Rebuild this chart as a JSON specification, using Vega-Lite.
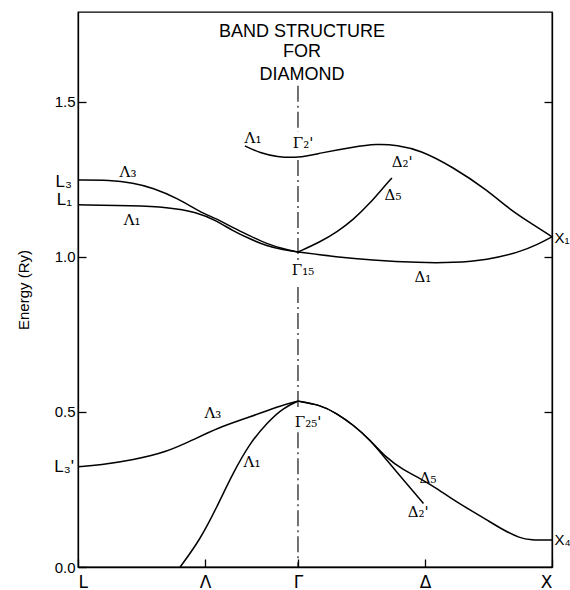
{
  "$schema": "https://vega.github.io/schema/vega-lite/v6.json",
  "autosize": "none",
  "padding": {"left": 78, "top": 12, "right": 18, "bottom": 23},
  "width": 474,
  "height": 555,
  "config": {
    "view": {"stroke": "black", "strokeWidth": 1.3},
    "font": "Liberation Sans",
    "axis": {"domainColor": "black", "tickColor": "black", "labelColor": "black", "titleColor": "black", "grid": false, "domainWidth": 1.3, "tickWidth": 1.3}
  },
  "datasets": {
    "bands": [
      {"band": "L3", "k": 0, "e": 1.248},
      {"band": "L3", "k": 0.126, "e": 1.248},
      {"band": "L3", "k": 0.217, "e": 1.239},
      {"band": "L3", "k": 0.295, "e": 1.223},
      {"band": "L3", "k": 0.39, "e": 1.19},
      {"band": "L3", "k": 0.48, "e": 1.145},
      {"band": "L3", "k": 0.547, "e": 1.123},
      {"band": "L3", "k": 0.61, "e": 1.094},
      {"band": "L3", "k": 0.677, "e": 1.068},
      {"band": "L3", "k": 0.744, "e": 1.042},
      {"band": "L3", "k": 0.807, "e": 1.026},
      {"band": "L3", "k": 0.866, "e": 1.016},
      {"band": "L1", "k": 0, "e": 1.168},
      {"band": "L1", "k": 0.217, "e": 1.165},
      {"band": "L1", "k": 0.35, "e": 1.161},
      {"band": "L1", "k": 0.469, "e": 1.145},
      {"band": "L1", "k": 0.547, "e": 1.116},
      {"band": "L1", "k": 0.61, "e": 1.084},
      {"band": "L1", "k": 0.677, "e": 1.058},
      {"band": "L1", "k": 0.744, "e": 1.035},
      {"band": "L1", "k": 0.807, "e": 1.023},
      {"band": "L1", "k": 0.866, "e": 1.016},
      {"band": "G2p", "k": 0.657, "e": 1.358},
      {"band": "G2p", "k": 0.717, "e": 1.335},
      {"band": "G2p", "k": 0.783, "e": 1.323},
      {"band": "G2p", "k": 0.866, "e": 1.319},
      {"band": "G2p", "k": 0.953, "e": 1.335},
      {"band": "G2p", "k": 1.083, "e": 1.355},
      {"band": "G2p", "k": 1.177, "e": 1.365},
      {"band": "G2p", "k": 1.256, "e": 1.361},
      {"band": "G2p", "k": 1.346, "e": 1.345},
      {"band": "G2p", "k": 1.476, "e": 1.29},
      {"band": "G2p", "k": 1.61, "e": 1.216},
      {"band": "G2p", "k": 1.701, "e": 1.152},
      {"band": "G2p", "k": 1.78, "e": 1.11},
      {"band": "G2p", "k": 1.866, "e": 1.065},
      {"band": "D5c", "k": 0.866, "e": 1.016},
      {"band": "D5c", "k": 0.953, "e": 1.048},
      {"band": "D5c", "k": 1.02, "e": 1.081},
      {"band": "D5c", "k": 1.083, "e": 1.119},
      {"band": "D5c", "k": 1.15, "e": 1.174},
      {"band": "D5c", "k": 1.201, "e": 1.223},
      {"band": "D5c", "k": 1.236, "e": 1.255},
      {"band": "D1", "k": 0.866, "e": 1.016},
      {"band": "D1", "k": 1.02, "e": 1.0},
      {"band": "D1", "k": 1.15, "e": 0.99},
      {"band": "D1", "k": 1.346, "e": 0.981},
      {"band": "D1", "k": 1.476, "e": 0.981},
      {"band": "D1", "k": 1.61, "e": 0.99},
      {"band": "D1", "k": 1.74, "e": 1.016},
      {"band": "D1", "k": 1.807, "e": 1.039},
      {"band": "D1", "k": 1.866, "e": 1.065},
      {"band": "L3v", "k": 0, "e": 0.323},
      {"band": "L3v", "k": 0.087, "e": 0.329},
      {"band": "L3v", "k": 0.217, "e": 0.345},
      {"band": "L3v", "k": 0.35, "e": 0.371},
      {"band": "L3v", "k": 0.453, "e": 0.41},
      {"band": "L3v", "k": 0.547, "e": 0.448},
      {"band": "L3v", "k": 0.677, "e": 0.484},
      {"band": "L3v", "k": 0.807, "e": 0.523},
      {"band": "L3v", "k": 0.866, "e": 0.535},
      {"band": "L1v", "k": 0.402, "e": 0},
      {"band": "L1v", "k": 0.48, "e": 0.087},
      {"band": "L1v", "k": 0.547, "e": 0.194},
      {"band": "L1v", "k": 0.61, "e": 0.303},
      {"band": "L1v", "k": 0.677, "e": 0.4},
      {"band": "L1v", "k": 0.744, "e": 0.465},
      {"band": "L1v", "k": 0.807, "e": 0.513},
      {"band": "L1v", "k": 0.866, "e": 0.535},
      {"band": "D5v", "k": 0.866, "e": 0.535},
      {"band": "D5v", "k": 0.953, "e": 0.523},
      {"band": "D5v", "k": 1.018, "e": 0.496},
      {"band": "D5v", "k": 1.084, "e": 0.458},
      {"band": "D5v", "k": 1.15, "e": 0.41},
      {"band": "D5v", "k": 1.215, "e": 0.351},
      {"band": "D5v", "k": 1.281, "e": 0.313},
      {"band": "D5v", "k": 1.346, "e": 0.286},
      {"band": "D5v", "k": 1.412, "e": 0.254},
      {"band": "D5v", "k": 1.478, "e": 0.216},
      {"band": "D5v", "k": 1.543, "e": 0.184},
      {"band": "D5v", "k": 1.609, "e": 0.152},
      {"band": "D5v", "k": 1.675, "e": 0.119},
      {"band": "D5v", "k": 1.74, "e": 0.093},
      {"band": "D5v", "k": 1.78, "e": 0.087},
      {"band": "D5v", "k": 1.866, "e": 0.087},
      {"band": "D2pv", "k": 0.866, "e": 0.535},
      {"band": "D2pv", "k": 0.953, "e": 0.523},
      {"band": "D2pv", "k": 1.018, "e": 0.496},
      {"band": "D2pv", "k": 1.084, "e": 0.458},
      {"band": "D2pv", "k": 1.15, "e": 0.41},
      {"band": "D2pv", "k": 1.215, "e": 0.345},
      {"band": "D2pv", "k": 1.281, "e": 0.281},
      {"band": "D2pv", "k": 1.36, "e": 0.205}
    ],
    "gammaLine": [
      {"k": 0.866, "e1": 1.552, "e2": 1.403},
      {"k": 0.866, "e1": 1.313, "e2": 0.984},
      {"k": 0.866, "e1": 0.903, "e2": 0.516},
      {"k": 0.866, "e1": 0.435, "e2": 0}
    ],
    "labels": [
      {"k": 0.197, "e": 1.274, "t": "Λ₃"},
      {"k": 0.213, "e": 1.119, "t": "Λ₁"},
      {"k": 0.689, "e": 1.384, "t": "Λ₁"},
      {"k": 0.886, "e": 1.368, "t": "Γ₂'"},
      {"k": 1.276, "e": 1.306, "t": "Δ₂'"},
      {"k": 1.24, "e": 1.2, "t": "Δ₅"},
      {"k": 0.886, "e": 0.958, "t": "Γ₁₅"},
      {"k": 1.358, "e": 0.935, "t": "Δ₁"},
      {"k": 0.531, "e": 0.497, "t": "Λ₃"},
      {"k": 0.685, "e": 0.339, "t": "Λ₁"},
      {"k": 0.906, "e": 0.468, "t": "Γ₂₅'"},
      {"k": 1.378, "e": 0.287, "t": "Δ₅"},
      {"k": 1.339, "e": 0.177, "t": "Δ₂'"}
    ],
    "leftLabels": [
      {"k": -0.024, "e": 1.242, "t": "L₃"},
      {"k": -0.024, "e": 1.184, "t": "L₁"},
      {"k": -0.016, "e": 0.323, "t": "L₃'"}
    ],
    "rightLabels": [
      {"k": 1.876, "e": 1.061, "t": "X₁"},
      {"k": 1.876, "e": 0.087, "t": "X₄"}
    ],
    "titleLines": [
      {"k": 0.882, "e": 1.727, "t": "BAND STRUCTURE"},
      {"k": 0.882, "e": 1.661, "t": "FOR"},
      {"k": 0.882, "e": 1.587, "t": "DIAMOND"}
    ]
  },
  "resolve": {"scale": {"y": "shared", "x": "shared"}, "axis": {"y": "independent"}},
  "layer": [
    {
      "data": {"name": "bands"},
      "mark": {"type": "line", "interpolate": "basis", "color": "black", "strokeWidth": 1.5},
      "encoding": {
        "x": {
          "field": "k", "type": "quantitative",
          "scale": {"domain": [0, 1.866], "nice": false, "zero": false},
          "axis": {
            "orient": "bottom", "title": null,
            "values": [0, 0.5, 0.866, 1.366, 1.866],
            "labelExpr": "datum.value < 0.1 ? 'L' : datum.value < 0.6 ? 'Λ' : datum.value < 1 ? 'Γ' : datum.value < 1.5 ? 'Δ' : 'X'",
            "tickSize": -8, "labelPadding": 15, "labelFontSize": 17, "labelFont": "DejaVu Sans", "domain": true
          }
        },
        "y": {
          "field": "e", "type": "quantitative",
          "scale": {"domain": [0, 1.79], "nice": false},
          "axis": {
            "orient": "left", "title": "Energy (Ry)",
            "values": [0, 0.5, 1, 1.5], "format": ".1f",
            "tickSize": -8, "labelPadding": 11, "labelFontSize": 15,
            "titleFontSize": 15, "titleFontWeight": "normal", "titlePadding": 23
          }
        },
        "detail": {"field": "band"}
      }
    },
    {
      "data": {"name": "bands"},
      "mark": {"type": "line", "opacity": 0},
      "encoding": {
        "x": {"field": "k", "type": "quantitative"},
        "y": {
          "field": "e", "type": "quantitative",
          "axis": {"orient": "right", "title": null, "labels": false, "values": [0.5, 1, 1.5], "tickSize": -8}
        },
        "detail": {"field": "band"}
      }
    },
    {
      "data": {"name": "gammaLine"},
      "mark": {"type": "rule", "color": "black", "strokeWidth": 1.1, "strokeDash": [16, 4, 2, 4]},
      "encoding": {
        "x": {"field": "k", "type": "quantitative"},
        "y": {"field": "e1", "type": "quantitative", "axis": null},
        "y2": {"field": "e2"}
      }
    },
    {
      "data": {"name": "labels"},
      "mark": {"type": "text", "font": "DejaVu Serif", "fontSize": 15, "color": "black", "align": "center", "baseline": "middle"},
      "encoding": {
        "x": {"field": "k", "type": "quantitative"},
        "y": {"field": "e", "type": "quantitative", "axis": null},
        "text": {"field": "t"}
      }
    },
    {
      "data": {"name": "leftLabels"},
      "mark": {"type": "text", "fontSize": 17, "color": "black", "align": "right", "baseline": "middle"},
      "encoding": {
        "x": {"field": "k", "type": "quantitative"},
        "y": {"field": "e", "type": "quantitative", "axis": null},
        "text": {"field": "t"}
      }
    },
    {
      "data": {"name": "rightLabels"},
      "mark": {"type": "text", "fontSize": 15, "color": "black", "align": "left", "baseline": "middle"},
      "encoding": {
        "x": {"field": "k", "type": "quantitative"},
        "y": {"field": "e", "type": "quantitative", "axis": null},
        "text": {"field": "t"}
      }
    },
    {
      "data": {"name": "titleLines"},
      "mark": {"type": "text", "fontSize": 18, "color": "black", "align": "center", "baseline": "middle"},
      "encoding": {
        "x": {"field": "k", "type": "quantitative"},
        "y": {"field": "e", "type": "quantitative", "axis": null},
        "text": {"field": "t"}
      }
    }
  ]
}
